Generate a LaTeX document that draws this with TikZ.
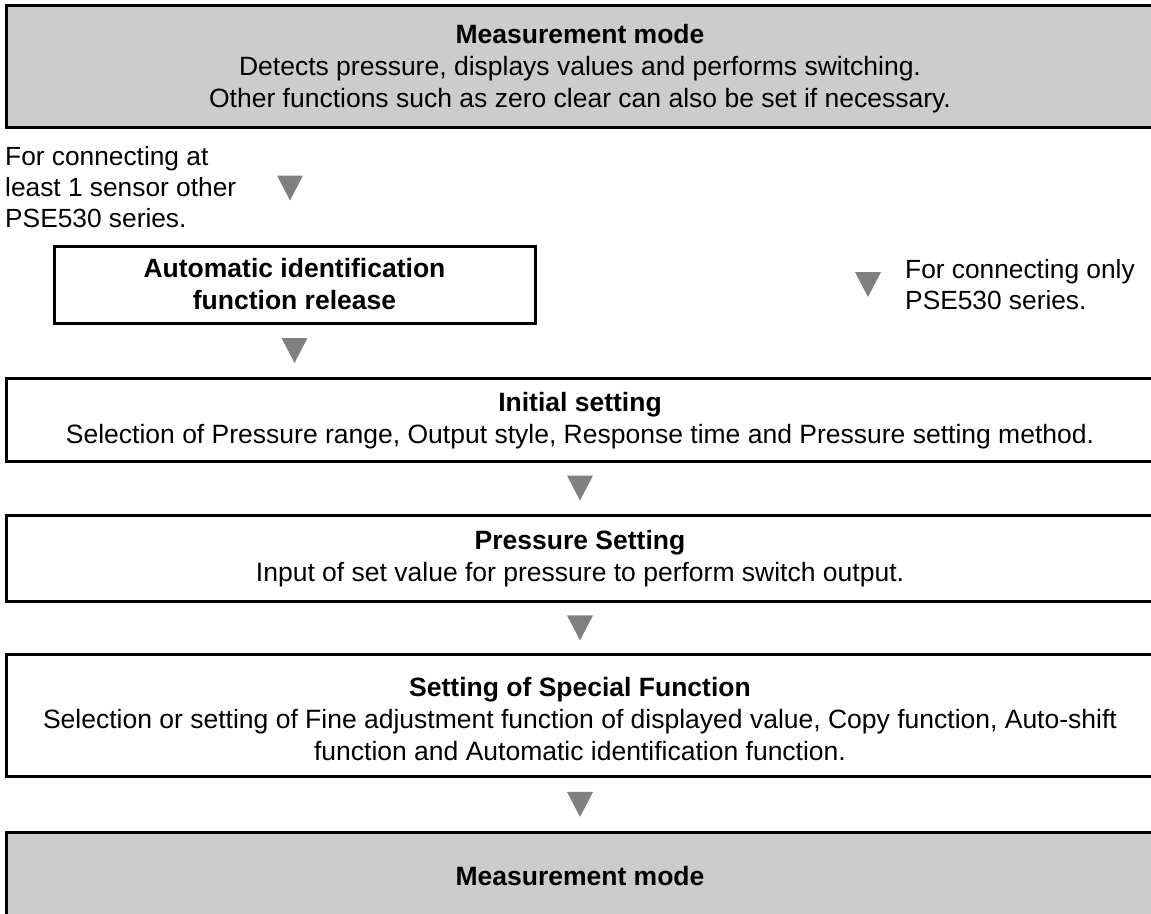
\documentclass[tikz,border=0pt]{standalone}
\usepackage{fontspec}
\setmainfont{Liberation Sans}
\usetikzlibrary{calc}
\definecolor{boxgray}{HTML}{CCCCCC}
\definecolor{trigray}{HTML}{808080}
\tikzset{
  box/.style={draw=black, line width=3pt, minimum width=1148pt, align=center, inner sep=0pt, font=\fontsize{26.5}{32}\selectfont},
  graybox/.style={box, fill=boxgray},
  note/.style={align=left, inner sep=0pt, font=\fontsize{26.3}{31}\selectfont},
  tri/.style={fill=trigray, draw=none}
}
\newcommand{\downtri}[1]{\fill[tri] ($(#1)+(-13,-12.5)$) -- ($(#1)+(13,-12.5)$) -- ($(#1)+(0,12.5)$) -- cycle;}
\begin{document}
\begin{tikzpicture}[x=1pt,y=-1pt]
\useasboundingbox (0,0) rectangle (1151,913);
\node[graybox, minimum height=122pt] (meas1) at (580,66.3) {\rule{0pt}{23pt}\textbf{Measurement mode}\\Detects pressure, displays values and performs switching.\\Other functions such as zero clear can also be set if necessary.};
\node[note, anchor=west] (lnote) at (5,187) {For connecting at\\least 1 sensor other\\PSE530 series.};
\node[box, minimum width=481pt, minimum height=77pt, font=\fontsize{26.5}{32}\selectfont\bfseries] (auto) at (294.5,284.5) {Automatic identification\\function release};
\node[note, anchor=west] (rnote) at (905,284.2) {For connecting only\\PSE530 series.};
\node[box, minimum height=83pt] (init) at (580,419.5) {\rule{0pt}{21pt}\textbf{Initial setting}\\Selection of Pressure range, Output style, Response time and Pressure setting method.};
\node[box, minimum height=86pt] (press) at (580,558) {\rule{0pt}{21pt}\textbf{Pressure Setting}\\Input of set value for pressure to perform switch output.};
\node[box, minimum height=122pt] (spec) at (580,715.8) {\rule{0pt}{26pt}\textbf{Setting of Special Function}\\Selection or setting of Fine adjustment function of displayed value, Copy function, Auto-shift\\function and Automatic identification function.};
\node[graybox, minimum height=88pt] (meas2) at (580,876) {\textbf{Measurement mode}};
\coordinate (t1) at (290,188);
\coordinate (tr) at (868,284.5);
\path (auto.south) -- (auto.south |- init.north) coordinate[midway] (t2);
\path (init.south) -- (press.north) coordinate[midway] (t3);
\path (press.south) -- (spec.north) coordinate[midway] (t4);
\path (spec.south) -- (meas2.north) coordinate[midway] (t5);
\downtri{t1}
\downtri{tr}
\downtri{t2}
\downtri{t3}
\downtri{t4}
\downtri{t5}
\end{tikzpicture}
\end{document}
